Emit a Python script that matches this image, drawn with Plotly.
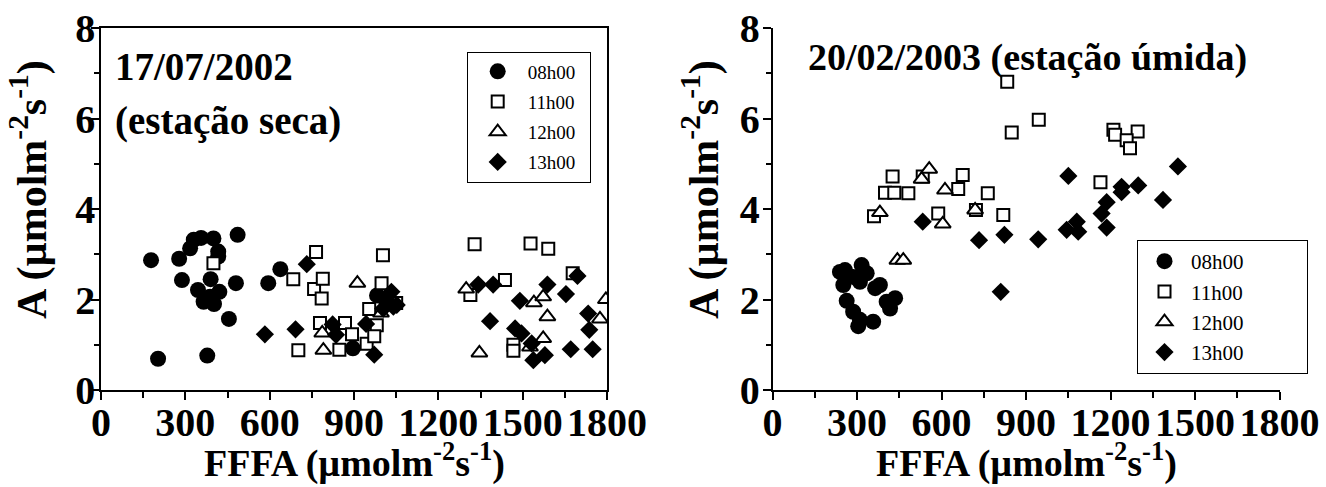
import plotly.graph_objects as go

# ---------------- data: 17/07/2002 (estação seca) ----------------
l08_x = [178, 203, 278, 288, 317, 330, 356, 400, 417, 417, 486, 390, 345, 365, 402, 388, 421, 480, 455, 378, 595, 638, 896, 982]
l08_y = [2.87, 0.69, 2.90, 2.43, 3.13, 3.32, 3.36, 3.35, 3.06, 2.95, 3.43, 2.45, 2.21, 1.95, 1.90, 2.06, 2.17, 2.36, 1.57, 0.76, 2.36, 2.67, 0.92, 2.09]

l11_x = [684, 765, 758, 789, 785, 779, 702, 848, 868, 893, 945, 954, 981, 972, 1003, 998, 1050, 400, 1329, 1314, 1528, 1591, 1437, 1678, 1467, 1467]
l11_y = [2.45, 3.05, 2.23, 2.46, 2.02, 1.48, 0.88, 0.89, 1.48, 1.23, 1.02, 1.79, 1.43, 1.19, 2.98, 2.36, 1.92, 2.80, 3.22, 2.10, 3.24, 3.12, 2.43, 2.58, 1.00, 0.87]

l12_x = [912, 787, 791, 996, 1299, 1346, 1540, 1573, 1588, 1573, 1526, 1796, 1775]
l12_y = [2.36, 1.26, 0.88, 1.70, 2.23, 0.82, 1.93, 2.06, 1.62, 1.14, 0.95, 2.00, 1.57]

l13_x = [583, 692, 732, 824, 836, 943, 972, 1033, 1010, 1004, 1040, 1052, 1342, 1395, 1384, 1490, 1588, 1654, 1695, 1473, 1496, 1532, 1538, 1579, 1671, 1749, 1733, 1737]
l13_y = [1.23, 1.34, 2.78, 1.45, 1.22, 1.46, 0.78, 2.17, 1.97, 1.80, 1.84, 1.88, 2.33, 2.33, 1.52, 1.97, 2.33, 2.12, 2.52, 1.36, 1.25, 1.03, 0.66, 0.77, 0.90, 0.90, 1.69, 1.33]

# ---------------- data: 20/02/2003 (estação úmida) ----------------
r08_x = [257, 316, 334, 251, 310, 286, 381, 364, 263, 286, 310, 304, 357, 405, 435, 417, 239]
r08_y = [2.65, 2.76, 2.58, 2.32, 2.39, 2.50, 2.32, 2.25, 1.97, 1.73, 1.55, 1.41, 1.51, 1.95, 2.03, 1.80, 2.61]

r11_x = [833, 849, 945, 426, 399, 432, 482, 533, 675, 659, 764, 722, 588, 819, 360, 1210, 1216, 1296, 1257, 1269, 1164]
r11_y = [6.81, 5.69, 5.97, 4.72, 4.36, 4.36, 4.35, 4.72, 4.75, 4.44, 4.35, 3.98, 3.90, 3.87, 3.84, 5.75, 5.64, 5.71, 5.52, 5.34, 4.59]

r12_x = [556, 529, 612, 719, 604, 381, 443, 464]
r12_y = [4.88, 4.66, 4.42, 3.98, 3.67, 3.92, 2.87, 2.87]

r13_x = [533, 733, 823, 943, 810, 1050, 1044, 1080, 1085, 1186, 1168, 1186, 1239, 1239, 1298, 1386, 1439]
r13_y = [3.72, 3.31, 3.43, 3.33, 2.17, 4.73, 3.54, 3.72, 3.50, 4.15, 3.90, 3.59, 4.49, 4.37, 4.52, 4.20, 4.94]

series_names = ["08h00", "11h00", "12h00", "13h00"]
x_ticks = [0, 300, 600, 900, 1200, 1500, 1800]
y_ticks = [0, 2, 4, 6, 8]

FONT = "Liberation Serif"
W, H = 1326, 487
PAD_L = "\u00a0" * 2
PAD_R = "\u00a0" * 11

styles = [
    dict(symbol="circle", size=16, color="black", line=dict(width=0)),
    dict(symbol="square", size=12, color="white", line=dict(color="black", width=2)),
    dict(symbol="triangle-up", size=14, color="white", line=dict(color="black", width=2)),
    dict(symbol="diamond", size=14, color="black", line=dict(width=0)),
]

fig = go.Figure()
left = [(l08_x, l08_y), (l11_x, l11_y), (l12_x, l12_y), (l13_x, l13_y)]
right = [(r08_x, r08_y), (r11_x, r11_y), (r12_x, r12_y), (r13_x, r13_y)]
for i, (xs, ys) in enumerate(left):
    fig.add_trace(go.Scatter(x=xs, y=ys, mode="markers", name=series_names[i] + PAD_L,
                             marker=styles[i], xaxis="x", yaxis="y",
                             legend="legend", legendgroup="L" + str(i)))
for i, (xs, ys) in enumerate(right):
    fig.add_trace(go.Scatter(x=xs, y=ys, mode="markers", name=series_names[i] + PAD_R,
                             marker=styles[i], xaxis="x2", yaxis="y2",
                             legend="legend2", legendgroup="R" + str(i)))

def px_x(p):
    return p / W

def px_y(p):
    return 1 - p / H

tickfont = dict(family=FONT, size=40, color="black")
common_x = dict(range=[0, 1800], tickvals=x_ticks, ticktext=["<b>%d</b>" % v for v in x_ticks],
                tickangle=0, automargin=False, ticklabelstandoff=-12,
                ticks="outside", ticklen=8, tickwidth=1.5, tickcolor="black",
                minor=dict(dtick=150, tick0=0, ticks="outside", ticklen=6, tickwidth=1.5, tickcolor="black"),
                showline=True, linecolor="black", linewidth=1.5, showgrid=False, zeroline=False,
                tickfont=tickfont, fixedrange=True)
common_y = dict(range=[0, 8], tickvals=y_ticks, ticktext=["<b>%d</b>" % v for v in y_ticks],
                tickangle=0, automargin=False,
                ticks="outside", ticklen=8, tickwidth=1.5, tickcolor="black",
                minor=dict(dtick=1, tick0=0, ticks="outside", ticklen=5, tickwidth=1.5, tickcolor="black"),
                showline=True, linecolor="black", linewidth=1.5, showgrid=False, zeroline=False,
                tickfont=tickfont, fixedrange=True)

legend_common = dict(bordercolor="black", borderwidth=1, bgcolor="white",
                     xanchor="left", yanchor="top")

fig.update_layout(
    template="none",
    width=W, height=H, margin=dict(l=0, r=0, t=0, b=0, pad=0), autosize=False,
    paper_bgcolor="white", plot_bgcolor="white",
    xaxis=dict(common_x, domain=[px_x(101), px_x(607)], anchor="y", mirror=True),
    yaxis=dict(common_y, domain=[px_y(390), px_y(28)], anchor="x", mirror=True, ticklabelstandoff=-12),
    xaxis2=dict(common_x, domain=[px_x(772.6), px_x(1279.6)], anchor="y2"),
    yaxis2=dict(common_y, domain=[px_y(390), px_y(28)], anchor="x2", ticklabelstandoff=-5),
    legend=dict(legend_common, x=px_x(466.7), y=px_y(51.5),
                font=dict(family=FONT, size=19, color="black"), itemwidth=50, tracegroupgap=2.5),
    legend2=dict(legend_common, x=px_x(1137), y=px_y(240),
                 font=dict(family=FONT, size=21, color="black"), itemwidth=43, tracegroupgap=0),
    showlegend=True,
)

bold = lambda s: "<b>" + s + "</b>"
title_font = dict(family=FONT, size=39, color="black")
ann = [
    dict(text=bold("17/07/2002"), x=px_x(113), y=px_y(66), xanchor="left", yanchor="middle", font=title_font),
    dict(text=bold("(estação seca)"), x=px_x(113), y=px_y(121), xanchor="left", yanchor="middle", font=title_font),
    dict(text=bold("20/02/2003 (estação úmida)"), x=px_x(806), y=px_y(58), xanchor="left", yanchor="middle", font=dict(family=FONT, size=38, color="black")),
    dict(text=bold("FFFA (µmolm<sup>-2</sup>s<sup>-1</sup>)"), x=px_x(354), y=px_y(460), xanchor="center", yanchor="middle", font=dict(family=FONT, size=38, color="black")),
    dict(text=bold("FFFA (µmolm<sup>-2</sup>s<sup>-1</sup>)"), x=px_x(1026), y=px_y(460), xanchor="center", yanchor="middle", font=dict(family=FONT, size=38, color="black")),
    dict(text=bold("A (µmolm<sup>-2</sup>s<sup>-1</sup>)"), x=px_x(29), y=px_y(190), xanchor="center", yanchor="middle", textangle=-90, font=dict(family=FONT, size=42, color="black")),
    dict(text=bold("A (µmolm<sup>-2</sup>s<sup>-1</sup>)"), x=px_x(701), y=px_y(190), xanchor="center", yanchor="middle", textangle=-90, font=dict(family=FONT, size=42, color="black")),
]
for a in ann:
    a.update(xref="paper", yref="paper", showarrow=False)
fig.update_layout(annotations=ann)

fig.write_html("out.html")
